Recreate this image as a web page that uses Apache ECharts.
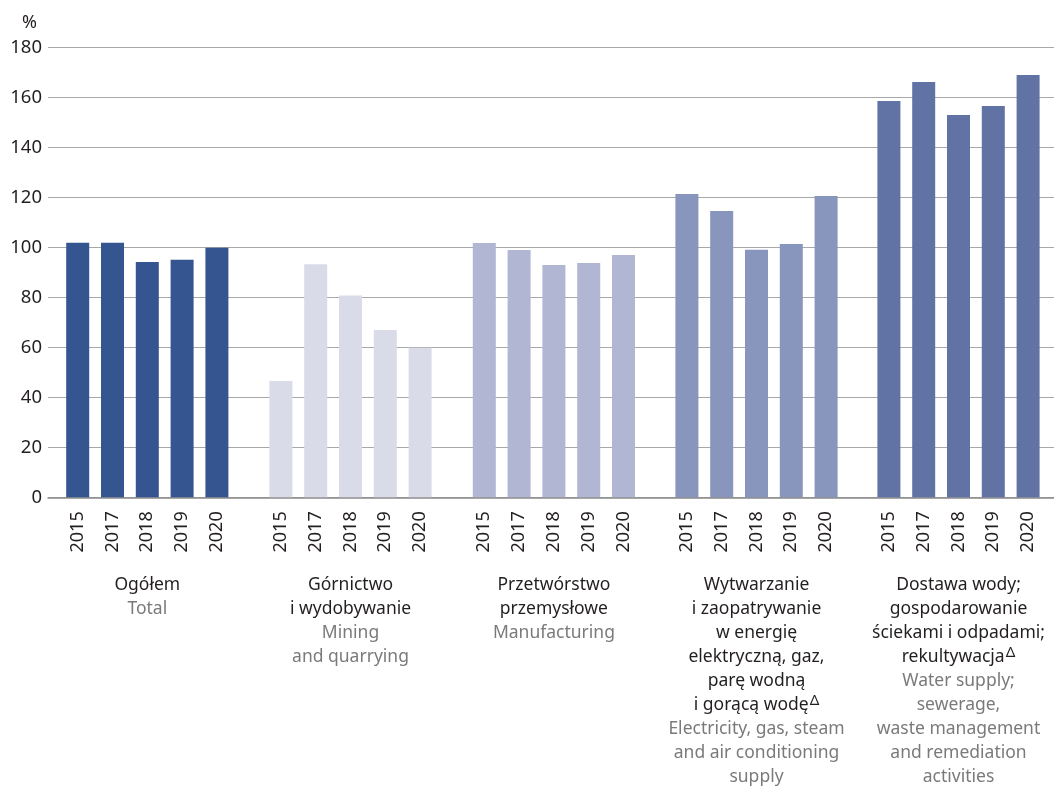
<!DOCTYPE html>
<html>
<head>
<meta charset="utf-8">
<script src="https://cdn.jsdelivr.net/npm/echarts@6/dist/echarts.min.js"></script>
<style>
html,body{margin:0;padding:0;background:#fff;}
#c{width:1054px;height:786px;}
</style>
</head>
<body>
<div id="c"></div>
<script>
var years = ['2015', '2017', '2018', '2019', '2020'];
var total = [101.8, 101.8, 94.1, 95.0, 99.8];
var mining = [46.5, 93.2, 80.7, 66.9, 59.8];
var manufacturing = [101.7, 98.9, 92.9, 93.7, 96.9];
var electricity = [121.3, 114.5, 99.0, 101.3, 120.5];
var water = [158.5, 166.1, 152.9, 156.5, 168.9];

var groupPl = [
  ['Ogółem'],
  ['Górnictwo', 'i wydobywanie'],
  ['Przetwórstwo', 'przemysłowe'],
  ['Wytwarzanie', 'i zaopatrywanie', 'w energię', 'elektryczną, gaz,', 'parę wodną', 'i gorącą wodę^Δ'],
  ['Dostawa wody;', 'gospodarowanie', 'ściekami i odpadami;', 'rekultywacja^Δ']
];
var groupEn = [
  ['Total'],
  ['Mining', 'and quarrying'],
  ['Manufacturing'],
  ['Electricity, gas, steam', 'and air conditioning', 'supply'],
  ['Water supply;', 'sewerage,', 'waste management', 'and remediation', 'activities']
];
var seriesData = [total, mining, manufacturing, electricity, water];
var colors = ['#34558f', '#d9dbe9', '#b1b6d2', '#8895bd', '#6173a4'];
var centers = [147.3, 350.5, 553.9, 756.5, 958.5];

var yMin = 0, yMax = 180, yStep = 20;
var FONT = 'Noto Sans';

function buildName(pl, en) {
  var lines = [];
  pl.forEach(function (l) {
    var parts = l.split('^');
    var s = '{p|' + parts[0] + '}';
    if (parts[1]) s += '{s|' + parts[1] + '}';
    lines.push(s);
  });
  en.forEach(function (l) { lines.push('{e|' + l + '}'); });
  return lines.join('\n');
}

var richStyles = {
  p: {fontFamily: FONT, fontSize: 17.5, color: '#231f20', lineHeight: 24, align: 'center'},
  e: {fontFamily: FONT, fontSize: 17.5, color: '#7a7a7a', lineHeight: 24, align: 'center'},
  s: {fontFamily: FONT, fontSize: 15, color: '#231f20', lineHeight: 24, verticalAlign: 'top', align: 'center', padding: [0, 0, 12, 1]}
};

var TOP = 47.3, HEIGHT = 450;
var grids = [{left: 48, right: 0, top: TOP, height: HEIGHT, outerBoundsMode: 'none', containLabel: false}];
var xAxes = [{
  gridIndex: 0, type: 'category', data: [''],
  axisLine: {show: true, lineStyle: {color: '#8a8a8a', width: 1.5}},
  axisTick: {show: false}, axisLabel: {show: false}
}];
var yAxes = [{
  gridIndex: 0, type: 'value', min: yMin, max: yMax, interval: yStep,
  axisLine: {show: false}, axisTick: {show: false},
  axisLabel: {margin: 6, fontFamily: FONT, fontSize: 18.5, color: '#231f20'},
  splitLine: {lineStyle: {color: '#a8a8a8', width: 1}}
}];
var series = [];

for (var g = 0; g < 5; g++) {
  var w = 174;
  grids.push({left: centers[g] - w / 2, width: w, top: TOP, height: HEIGHT, outerBoundsMode: 'none', containLabel: false});
  xAxes.push({
    gridIndex: g + 1, type: 'category', data: years,
    axisLine: {show: false}, axisTick: {show: false},
    axisLabel: {rotate: 90, margin: 14, fontFamily: FONT, fontSize: 18, color: '#231f20'},
    name: buildName(groupPl[g], groupEn[g]),
    nameLocation: 'middle', nameGap: 76,
    nameTextStyle: {rich: richStyles, align: 'center', verticalAlign: 'top'}
  });
  yAxes.push({
    gridIndex: g + 1, type: 'value', min: yMin, max: yMax, interval: yStep,
    show: false
  });
  series.push({
    type: 'bar', xAxisIndex: g + 1, yAxisIndex: g + 1,
    data: seriesData[g], barWidth: 23,
    itemStyle: {color: colors[g]}, silent: true, z: 3
  });
}

var chart = echarts.init(document.getElementById('c'), null, {renderer: 'canvas'});
chart.setOption({
  animation: false,
  backgroundColor: '#ffffff',
  title: {text: '%', left: 17, top: 9, textStyle: {fontFamily: FONT, fontSize: 18, fontWeight: 'normal', color: '#231f20'}},
  grid: grids,
  xAxis: xAxes,
  yAxis: yAxes,
  series: series
});
</script>
</body>
</html>
